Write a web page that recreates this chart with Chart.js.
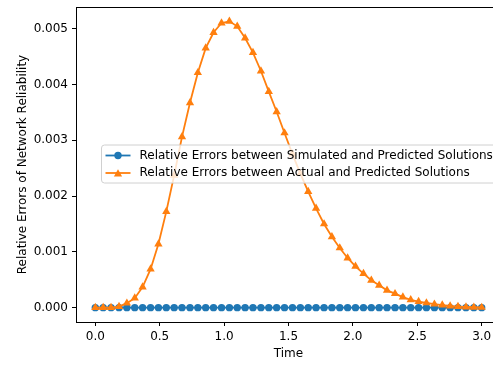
<!DOCTYPE html>
<html>
<head>
<meta charset="utf-8">
<script src="https://cdn.jsdelivr.net/npm/chart.js@4.4.1/dist/chart.umd.min.js"></script>
<style>
  html, body { margin: 0; padding: 0; background: #fff; overflow: hidden; }
  #wrap { width: 493px; height: 367px; overflow: hidden; }
</style>
</head>
<body>
<div id="wrap">
  <canvas id="errChart" width="520" height="367"></canvas>
</div>
<script>
// -------------------- DATA --------------------
const timePoints = [
  0.000, 0.061, 0.122, 0.184, 0.245, 0.306, 0.367, 0.429, 0.490, 0.551,
  0.612, 0.673, 0.735, 0.796, 0.857, 0.918, 0.980, 1.041, 1.102, 1.163,
  1.224, 1.286, 1.347, 1.408, 1.469, 1.531, 1.592, 1.653, 1.714, 1.776,
  1.837, 1.898, 1.959, 2.020, 2.082, 2.143, 2.204, 2.265, 2.327, 2.388,
  2.449, 2.510, 2.571, 2.633, 2.694, 2.755, 2.816, 2.878, 2.939, 3.000
];

const simulatedErrors = [
  0, 0, 0, 0, 0, 0, 0, 0, 0, 0,
  0, 0, 0, 0, 0, 0, 0, 0, 0, 0,
  0, 0, 0, 0, 0, 0, 0, 0, 0, 0,
  0, 0, 0, 0, 0, 0, 0, 0, 0, 0,
  0, 0, 0, 0, 0, 0, 0, 0, 0, 0
];

const actualErrors = [
  0, 0, 0, 0.00002, 0.00008, 0.00017, 0.00037, 0.00069, 0.00114, 0.00172,
  0.00237, 0.00306, 0.00367, 0.00421, 0.00465, 0.00493, 0.00510, 0.00513, 0.00504, 0.00483,
  0.00457, 0.00424, 0.00387, 0.00351, 0.00313, 0.00275, 0.00240, 0.00208, 0.00178, 0.00150,
  0.00127, 0.00107, 0.00089, 0.00074, 0.00061, 0.00049, 0.00040, 0.00031, 0.00025, 0.00019,
  0.00014, 0.00011, 0.000084, 0.000062, 0.000045, 0.000030, 0.000020, 0.000012, 0.000007, 0.000004
];

const xTicks = [0, 0.5, 1, 1.5, 2, 2.5, 3];
const yTicks = [0, 0.001, 0.002, 0.003, 0.004, 0.005];

const seriesLabels = [
  "Relative Errors between Simulated and Predicted Solutions",
  "Relative Errors between Actual and Predicted Solutions"
];

const BLUE = "#1f77b4";
const ORANGE = "#ff7f0e";
const FONT = "DejaVu Sans";
const FONT_SIZE = 12;

// -------------------- PLUGINS --------------------
const framePlugin = {
  id: "frame",
  afterDraw(chart) {
    const { ctx, chartArea } = chart;
    ctx.save();
    ctx.strokeStyle = "#000";
    ctx.lineWidth = 1;
    ctx.beginPath();
    ctx.moveTo(Math.round(chartArea.left) + 0.5, Math.round(chartArea.top) + 0.5);
    ctx.lineTo(Math.round(chartArea.right) + 0.5, Math.round(chartArea.top) + 0.5);
    ctx.lineTo(Math.round(chartArea.right) + 0.5, Math.round(chartArea.bottom) + 0.5);
    ctx.stroke();
    ctx.restore();
  }
};

const legendBoxPlugin = {
  id: "legendBox",
  afterDatasetsDraw(chart) {
    const { ctx } = chart;
    const left = 101.5;
    const top = 145;
    const rowH = 17.5;
    ctx.save();
    ctx.font = `${FONT_SIZE}px "${FONT}"`;
    const textW = Math.max(...seriesLabels.map((t) => ctx.measureText(t).width));
    const textX = 139.5;
    const right = textX + textW + 6;
    const bottom = top + 38;

    // box
    ctx.beginPath();
    ctx.roundRect(left, top, right - left, bottom - top, 3);
    ctx.fillStyle = "rgba(255,255,255,0.8)";
    ctx.fill();
    ctx.strokeStyle = "#d0d0d0";
    ctx.lineWidth = 1;
    ctx.stroke();

    const styles = [
      { color: BLUE, marker: "circle" },
      { color: ORANGE, marker: "triangle" }
    ];

    styles.forEach((s, i) => {
      const y = top + 10.5 + i * rowH;
      ctx.strokeStyle = s.color;
      ctx.lineWidth = 1.8;
      ctx.beginPath();
      ctx.moveTo(105.5, y);
      ctx.lineTo(130.5, y);
      ctx.stroke();
      ctx.fillStyle = s.color;
      ctx.beginPath();
      if (s.marker === "circle") {
        ctx.arc(118, y, 3.7, 0, Math.PI * 2);
      } else {
        ctx.moveTo(118, y - 3.8);
        ctx.lineTo(113.9, y + 3.6);
        ctx.lineTo(122.1, y + 3.6);
        ctx.closePath();
      }
      ctx.fill();
      ctx.fillStyle = "#000";
      ctx.textBaseline = "middle";
      ctx.textAlign = "left";
      ctx.fillText(seriesLabels[i], textX, y);
    });
    ctx.restore();
  }
};

// -------------------- CHART --------------------
window.addEventListener("load", () => {
  const canvas = document.getElementById("errChart");

  new Chart(canvas, {
    type: "line",
    data: {
      datasets: [
        {
          label: seriesLabels[0],
          data: timePoints.map((t, i) => ({ x: t, y: simulatedErrors[i] })),
          borderColor: BLUE,
          backgroundColor: BLUE,
          borderWidth: 1.8,
          pointStyle: "circle",
          pointRadius: 3.7,
          pointBorderWidth: 0,
          pointBackgroundColor: BLUE,
          order: 2
        },
        {
          label: seriesLabels[1],
          data: timePoints.map((t, i) => ({ x: t, y: actualErrors[i] })),
          borderColor: ORANGE,
          backgroundColor: ORANGE,
          borderWidth: 1.8,
          pointStyle: "triangle",
          pointRadius: 4.8,
          pointBorderWidth: 0,
          pointBackgroundColor: ORANGE,
          order: 1
        }
      ]
    },
    options: {
      responsive: false,
      animation: false,
      devicePixelRatio: 1,
      layout: {
        padding: { top: 7, right: 19, bottom: 0, left: 0 }
      },
      plugins: {
        legend: { display: false },
        tooltip: { enabled: false }
      },
      scales: {
        x: {
          type: "linear",
          min: -0.15,
          max: 3.15,
          afterBuildTicks: (scale) => {
            scale.ticks = xTicks.map((v) => ({ value: v }));
          },
          afterFit: (scale) => {
            scale.height = 45;
            scale.paddingLeft = 0;
            scale.paddingRight = 0;
          },
          ticks: {
            color: "#000",
            font: { family: FONT, size: FONT_SIZE },
            padding: 3.5,
            maxRotation: 0,
            callback: (v) => Number(v).toFixed(1)
          },
          grid: {
            drawOnChartArea: false,
            drawTicks: true,
            tickLength: 4,
            color: "#000"
          },
          border: { display: true, color: "#000", width: 1 },
          title: {
            display: true,
            text: "Time",
            color: "#000",
            font: { family: FONT, size: FONT_SIZE },
            padding: { top: 0, bottom: 6.3 }
          }
        },
        y: {
          type: "linear",
          min: -0.000257,
          max: 0.005387,
          afterBuildTicks: (scale) => {
            scale.ticks = yTicks.map((v) => ({ value: v }));
          },
          afterFit: (scale) => {
            scale.width = 76;
            scale.paddingTop = 0;
            scale.paddingBottom = 0;
          },
          ticks: {
            color: "#000",
            font: { family: FONT, size: FONT_SIZE },
            padding: 4,
            callback: (v) => Number(v).toFixed(3)
          },
          grid: {
            drawOnChartArea: false,
            drawTicks: true,
            tickLength: 4,
            color: "#000"
          },
          border: { display: true, color: "#000", width: 1 },
          title: {
            display: true,
            text: "Relative Errors of Network Reliability",
            color: "#000",
            font: { family: FONT, size: FONT_SIZE },
            padding: { top: 16, bottom: 0 }
          }
        }
      }
    },
    plugins: [framePlugin, legendBoxPlugin]
  });
});
</script>
</body>
</html>
